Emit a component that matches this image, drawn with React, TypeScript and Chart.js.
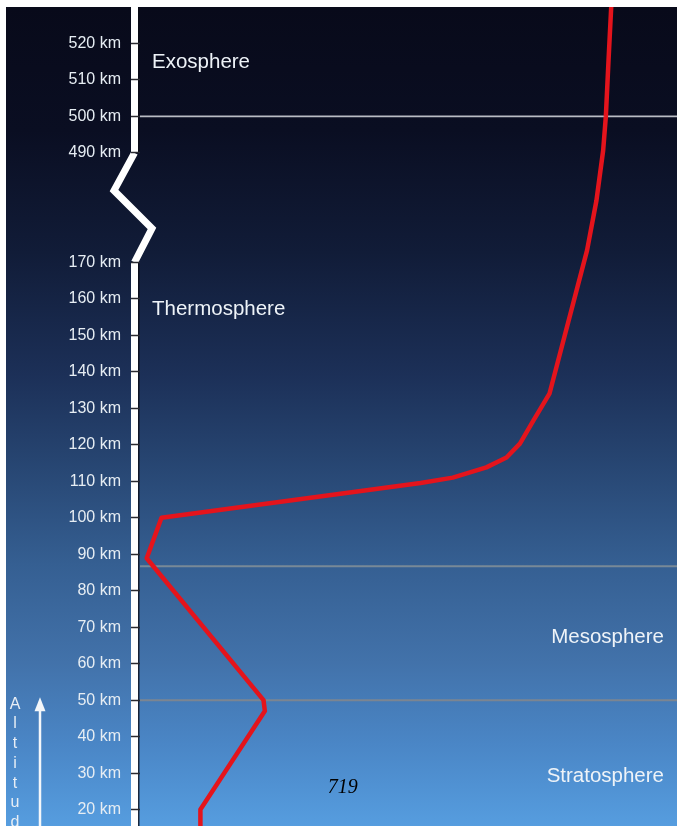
import { useEffect, useRef } from 'react';
import { Chart, registerables } from 'chart.js';

Chart.register(...registerables);

// ---- data ----
const ALT_TICKS = [20, 30, 40, 50, 60, 70, 80, 90, 100, 110, 120, 130, 140, 150, 160, 170, 490, 500, 510, 520];
const PROFILE_ALT = [15, 20, 47, 50, 88.9, 100, 109.5, 111, 113.8, 116.5, 120.3, 126.6, 134, 205, 351, 490.7, 500, 515.4, 530];
const PROFILE_TEMP = [225, 225, 273, 272, 185, 196, 389, 413, 438, 453, 463, 473, 485, 513, 520, 525, 527, 529, 531];
const BOUNDARY_ALT = [500, 86.7, 50];
const LAYER_NAMES = ['Exosphere', 'Thermosphere', 'Mesosphere', 'Stratosphere'];
const LAYER_ALT = [513.3, 155.6, 65.7, 27.6];
const AXIS_TITLE = 'Altitude';
const PAGE_NUMBER = '719';
const PAGE_NUMBER_POS = { temp: 331, alt: 24.5 };

// ---- broken axis mapping ----
const BREAK_LOW = 170;
const BREAK_HIGH = 490;
const BREAK_SPAN = 30;
function toAxis(alt: number) {
  if (alt <= BREAK_LOW) return alt;
  if (alt >= BREAK_HIGH) return alt - BREAK_HIGH + BREAK_LOW + BREAK_SPAN;
  return BREAK_LOW + ((alt - BREAK_LOW) * BREAK_SPAN) / (BREAK_HIGH - BREAK_LOW);
}
function fromAxis(v: number) {
  if (v <= BREAK_LOW) return v;
  if (v >= BREAK_LOW + BREAK_SPAN) return v - BREAK_LOW - BREAK_SPAN + BREAK_HIGH;
  return BREAK_LOW + ((v - BREAK_LOW) * (BREAK_HIGH - BREAK_LOW)) / BREAK_SPAN;
}

const Y_MIN = 15.5;
const Y_MAX = toAxis(530);
const X_MIN = 180;
const X_MAX = 580;

const FONT = 'Arial, "Liberation Sans", Helvetica, sans-serif';
const BOUNDARY_COLORS = ['rgba(205,208,214,0.9)', 'rgba(165,165,155,0.6)', 'rgba(160,140,120,0.6)'];

const backgroundPlugin = {
  id: 'bgPlugin',
  beforeDraw(chart: any) {
    const { ctx, chartArea, scales } = chart;
    const y = scales.y;
    ctx.save();
    ctx.fillStyle = '#ffffff';
    ctx.fillRect(0, 0, chart.width, chart.height);
    const g = ctx.createLinearGradient(0, chartArea.top, 0, chartArea.bottom);
    g.addColorStop(0, '#080a1a');
    g.addColorStop(0.15, '#0a0e22');
    g.addColorStop(0.3, '#111c38');
    g.addColorStop(0.45, '#1c3058');
    g.addColorStop(0.55, '#264470');
    g.addColorStop(0.68, '#355f92');
    g.addColorStop(0.8, '#4272aa');
    g.addColorStop(0.9, '#4a86c6');
    g.addColorStop(1, '#569ddf');
    ctx.fillStyle = g;
    ctx.fillRect(6, chartArea.top, chart.width - 6, chart.height - chartArea.top);

    // white axis bar with break
    const left = chartArea.left;
    const yHi = y.getPixelForValue(toAxis(BREAK_HIGH));
    const yLo = y.getPixelForValue(toAxis(BREAK_LOW));
    const cx = left - 5.5;
    const bottom = chart.height;
    ctx.fillStyle = '#ffffff';
    ctx.fillRect(left - 9, chartArea.top, 7, yHi - chartArea.top);
    ctx.fillRect(left - 9, yLo, 7, bottom - yLo);
    ctx.fillStyle = 'rgba(10,10,20,0.8)';
    ctx.fillRect(left - 2, chartArea.top, 1.5, yHi - chartArea.top);
    ctx.fillRect(left - 2, yLo, 1.5, bottom - yLo);
    ctx.strokeStyle = '#ffffff';
    ctx.lineWidth = 7;
    ctx.lineJoin = 'miter';
    ctx.beginPath();
    ctx.moveTo(cx, yHi);
    ctx.lineTo(cx - 20.5, yHi + (yLo - yHi) * 0.344);
    ctx.lineTo(cx + 17.5, yHi + (yLo - yHi) * 0.69);
    ctx.lineTo(cx, yLo);
    ctx.stroke();
    ctx.restore();
  },
};

const labelPlugin = {
  id: 'labelPlugin',
  afterDatasetsDraw(chart: any) {
    const { ctx, chartArea, scales } = chart;
    const y = scales.y;
    const x = scales.x;
    ctx.save();
    ctx.fillStyle = '#eef3f8';
    ctx.font = `20.5px ${FONT}`;
    ctx.textBaseline = 'alphabetic';
    LAYER_NAMES.forEach((name, i) => {
      const py = y.getPixelForValue(toAxis(LAYER_ALT[i]));
      if (i < 2) {
        ctx.textAlign = 'left';
        ctx.fillText(name, chartArea.left + 12, py);
      } else {
        ctx.textAlign = 'right';
        ctx.fillText(name, chartArea.right - 13, py);
      }
    });

    // page number
    ctx.fillStyle = '#000000';
    ctx.font = `italic 20px "Liberation Serif", "Times New Roman", serif`;
    ctx.textAlign = 'center';
    ctx.fillText(PAGE_NUMBER, x.getPixelForValue(PAGE_NUMBER_POS.temp), y.getPixelForValue(toAxis(PAGE_NUMBER_POS.alt)));

    // altitude title (stacked letters) and arrow
    const tipY = y.getPixelForValue(50.5);
    ctx.fillStyle = '#e8eef5';
    ctx.font = `16px ${FONT}`;
    ctx.textAlign = 'center';
    ctx.textBaseline = 'middle';
    AXIS_TITLE.split('').forEach((ch, i) => {
      ctx.fillText(ch, 15, tipY + 6 + i * 19.7);
    });
    ctx.strokeStyle = '#f4f7fa';
    ctx.lineWidth = 2.5;
    ctx.beginPath();
    ctx.moveTo(40, chart.height);
    ctx.lineTo(40, tipY + 8);
    ctx.stroke();
    ctx.fillStyle = '#f4f7fa';
    ctx.beginPath();
    ctx.moveTo(40, tipY - 1);
    ctx.lineTo(34.5, tipY + 13);
    ctx.lineTo(45.5, tipY + 13);
    ctx.closePath();
    ctx.fill();
    ctx.restore();
  },
};

export default function App() {
  const ref = useRef<HTMLCanvasElement | null>(null);
  useEffect(() => {
    if (!ref.current) return;
    const profile = PROFILE_ALT.map((a, i) => ({ x: PROFILE_TEMP[i], y: toAxis(a) }));
    const boundaries = BOUNDARY_ALT.map((a, i) => ({
      data: [
        { x: X_MIN, y: toAxis(a) },
        { x: X_MAX, y: toAxis(a) },
      ],
      borderColor: BOUNDARY_COLORS[i],
      borderWidth: i === 0 ? 1.8 : 2,
      pointRadius: 0,
      tension: 0,
    }));
    const chart = new Chart(ref.current, {
      type: 'line',
      data: {
        datasets: [
          {
            data: profile,
            borderColor: '#e4141c',
            borderWidth: 4.5,
            pointRadius: 0,
            tension: 0,
            borderJoinStyle: 'round',
            borderCapStyle: 'round',
          },
          ...boundaries,
        ] as any,
      },
      options: {
        animation: false,
        responsive: false,
        maintainAspectRatio: false,
        layout: { padding: { top: 7, bottom: 0, left: 0, right: 0 } },
        plugins: { legend: { display: false }, tooltip: { enabled: false }, title: { display: false } },
        scales: {
          x: { type: 'linear', display: false, min: X_MIN, max: X_MAX },
          y: {
            type: 'linear',
            min: Y_MIN,
            max: Y_MAX,
            border: { display: false },
            grid: {
              display: true,
              drawOnChartArea: false,
              drawTicks: true,
              tickLength: 9,
              tickWidth: 1.5,
              tickColor: '#2a2a30',
            },
            afterBuildTicks(scale: any) {
              scale.ticks = ALT_TICKS.map((a) => ({ value: toAxis(a) }));
            },
            afterFit(scale: any) {
              scale.width = 140;
              scale.paddingTop = 0;
              scale.paddingBottom = 0;
            },
            ticks: {
              autoSkip: false,
              padding: 10,
              color: '#e6edf3',
              font: { family: FONT, size: 16 },
              callback: (v: any) => `${Math.round(fromAxis(Number(v)))} km`,
            },
          },
        },
      },
      plugins: [backgroundPlugin, labelPlugin],
    });
    return () => chart.destroy();
  }, []);
  return (
    <div style={{ position: 'absolute', left: 0, top: 0, width: 677, height: 826 }}>
      <canvas ref={ref} width={677} height={826} style={{ display: 'block' }} />
    </div>
  );
}
